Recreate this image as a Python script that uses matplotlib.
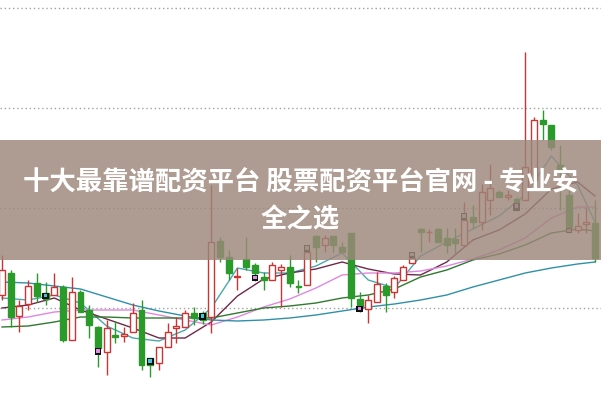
import matplotlib.pyplot as plt
from matplotlib.patches import Rectangle

plt.rcParams['font.family'] = ['Noto Sans CJK SC', 'DejaVu Sans']

# daily candles: open, high, low, close (price units)
opens = [5.65, 6.75, 4.6, 5.2, 6.25, 5.75, 5.65, 6.05, 3.4, 5.8,
         4.9, 4.05, 2.8, 3.65, 3.6, 3.8, 4.9, 2.5, 2.25, 3.05,
         4.0, 4.05, 4.75, 4.75, 4.55, 8.35, 7.55, 6.55, 7.45, 7.15,
         6.55, 6.4, 6.9, 7.05, 6.1, 6.15, 8.6, 8.15, 8.6, 8.05,
         8.75, 5.45, 4.95, 5.3, 6.1, 5.8, 6.4, 7.25, 8.95, 8.78,
         8.95, 8.5, 8.45, 8.15, 9.55, 9.3, 10.4, 10.8, 10.55, 10.45,
         10.4, 11.4, 14.4, 14.15, 12.15, 10.65, 8.9, 9.2, 9.25]
highs = [7.65, 6.9, 5.4, 6.4, 6.75, 6.3, 6.75, 6.15, 6.55, 5.9,
         5.15, 4.1, 4.4, 4.35, 4.05, 5.25, 5.4, 2.5, 3.05, 4.25,
         4.55, 4.9, 5.05, 4.85, 11.15, 8.55, 7.9, 7.0, 8.55, 7.25,
         6.8, 7.3, 7.2, 7.65, 6.4, 8.15, 8.65, 8.65, 8.6, 8.3,
         8.75, 5.8, 5.65, 6.8, 6.25, 6.6, 7.15, 7.8, 9.0, 8.95,
         9.0, 9.0, 9.0, 10.3, 10.15, 11.2, 12.2, 10.9, 10.9, 10.55,
         17.8, 14.55, 14.9, 14.15, 13.15, 10.9, 9.75, 10.05, 10.4]
lows = [5.4, 4.05, 3.8, 4.9, 5.3, 5.15, 5.65, 3.3, 3.4, 4.8,
        3.5, 2.05, 1.65, 3.25, 3.3, 3.8, 1.9, 1.55, 1.9, 3.05,
        3.25, 4.05, 4.15, 4.2, 3.75, 7.3, 6.4, 5.9, 6.9, 6.35,
        5.9, 6.4, 5.05, 6.05, 5.75, 6.15, 7.3, 7.8, 7.8, 7.8,
        5.05, 4.8, 4.25, 5.3, 4.8, 5.5, 6.4, 7.25, 7.8, 8.3,
        8.3, 7.75, 7.75, 8.15, 9.0, 8.9, 9.65, 10.55, 10.4, 9.85,
        10.4, 11.4, 13.4, 12.9, 9.9, 8.75, 8.75, 8.75, 7.3]
closes = [6.9, 4.55, 5.1, 6.1, 5.6, 5.45, 6.05, 3.4, 5.8, 4.8,
          4.15, 3.0, 4.0, 3.55, 3.7, 4.75, 2.15, 2.15, 3.05, 3.8,
          4.1, 4.75, 4.5, 4.4, 8.3, 7.55, 6.75, 6.6, 7.05, 6.75,
          6.4, 7.15, 7.05, 6.25, 6.05, 7.8, 8.05, 8.5, 8.15, 7.8,
          5.5, 5.1, 5.4, 6.2, 5.65, 6.5, 7.05, 7.5, 8.8, 8.82,
          8.3, 8.15, 8.25, 9.4, 9.3, 10.8, 11.0, 10.55, 10.65, 10.25,
          12.05, 14.4, 14.2, 13.05, 11.8, 9.05, 9.1, 9.3, 7.5]

# signal boxes (black squares) drawn on some candles
sig_idx = [5, 11, 17, 23, 29, 35, 41, 47, 53, 59, 65]
sig_lo = [5.45, 2.65, 2.15, 4.4, 6.35, 7.8, 4.8, 7.5, 9.4, 9.85, 8.75]
sig_hi = [5.75, 3.0, 2.5, 4.75, 6.65, 8.15, 5.1, 7.8, 9.75, 10.25, 9.0]
sig_tint = ['#40c8d8', '#e090e0', '#40c8d8', '#40c8d8', '#e090e0', '#c8c8c8',
            '#e090e0', '#c8c8c8', '#c8c8c8', '#e090e0', '#c8a0a0']

# moving averages, read at every third candle
ma_idx = [0, 3, 6, 9, 12, 15, 18, 21, 24, 27, 30, 33, 36, 39, 42, 45, 48, 51,
          54, 57, 60, 63, 66, 68]
ma5 = [5.5, 5.4, 5.65, 5.25, 4.1, 3.5, 3.35, 3.9, 5.0, 7.0, 6.75, 6.75, 7.1,
       7.75, 6.4, 6.0, 7.6, 8.3, 8.95, 9.6, 10.65, 12.6, 11.15, 9.3]
ma10 = [5.0, 5.15, 5.5, 4.9, 4.45, 4.0, 3.5, 3.5, 4.3, 5.6, 6.45, 6.75, 6.95,
        7.3, 6.95, 6.7, 6.65, 7.3, 8.4, 8.9, 9.7, 10.95, 11.3, 10.6]
ma20 = [4.4, 4.55, 4.8, 4.9, 4.9, 4.9, 4.65, 4.4, 4.15, 4.55, 5.05, 5.45, 6.0,
        6.65, 6.75, 6.75, 6.85, 7.1, 7.45, 7.9, 8.5, 9.5, 10.05, 10.05]
ma30 = [4.05, 4.1, 4.3, 4.55, 4.55, 4.5, 4.5, 4.5, 4.5, 4.75, 5.0, 5.1, 5.25,
        5.5, 5.65, 5.95, 6.55, 6.9, 7.4, 7.7, 8.15, 8.75, 8.95, 8.85]
ma60 = [6.3, 6.25, 6.1, 5.95, 5.55, 5.15, 4.85, 4.6, 4.4, 4.35, 4.4, 4.5, 4.65,
        4.85, 5.05, 5.2, 5.4, 5.65, 6.05, 6.4, 6.75, 7.0, 7.2, 7.3]

grid_levels = [5, 10, 15, 20]
title_lines = ['十大最靠谱配资平台 股票配资平台官网 - 专业安', '全之选']

fig = plt.figure(figsize=(6.01, 4.0), dpi=100)
ax = fig.add_axes([0, 0, 1, 1])
ax.set_xlim(-0.23, 68.69)
ax.set_ylim(0.4, 20.4)
ax.axis('off')

for g in grid_levels:
    ax.axhline(g, color='#a0a0a0', lw=1.0, ls=(0, (1, 2)), zorder=0)

ma_styles = [(ma5, '#4aa8b0'), (ma10, '#702848'), (ma20, '#e088e0'),
             (ma30, '#2f7a2f'), (ma60, '#3090a8')]
for vals, col in ma_styles:
    ax.plot(ma_idx, vals, color=col, lw=1.0, zorder=1)

red = '#cc3333'
green = '#2a9a2a'
w = 0.68
for i in range(len(opens)):
    o, h, l, c = opens[i], highs[i], lows[i], closes[i]
    up = c >= o
    col = red if up else green
    ax.vlines(i, l, h, color=col, lw=1.0, zorder=2)
    lo, hi = min(o, c), max(o, c)
    ht = max(hi - lo, 0.04)
    if up:
        ax.bar(i, ht, w, bottom=lo, facecolor='white', edgecolor=col,
               lw=1.0, zorder=3)
    else:
        ax.bar(i, ht, w, bottom=lo, facecolor=col, edgecolor=col,
               lw=1.0, zorder=3)

for k in range(len(sig_idx)):
    i = sig_idx[k]
    ax.bar(i, sig_hi[k] - sig_lo[k], w * 1.1, bottom=sig_lo[k],
           color='#101010', zorder=4)
    mid = (sig_hi[k] + sig_lo[k]) / 2
    ax.bar(i, (sig_hi[k] - sig_lo[k]) * 0.5, w * 0.6, bottom=mid - 0.05,
           color=sig_tint[k], zorder=5)

# banner across the middle
fig.patches.append(Rectangle((0, 0.35), 1, 0.30, transform=fig.transFigure,
                             facecolor='#9c877a', alpha=0.82, zorder=10))
fig.text(0.5, 0.5425, title_lines[0], color='white', fontsize=19,
         fontweight='heavy', ha='center', va='center', zorder=11)
fig.text(0.5, 0.45, title_lines[1], color='white', fontsize=19,
         fontweight='heavy', ha='center', va='center', zorder=11)

fig.savefig('out.png', dpi=100)
